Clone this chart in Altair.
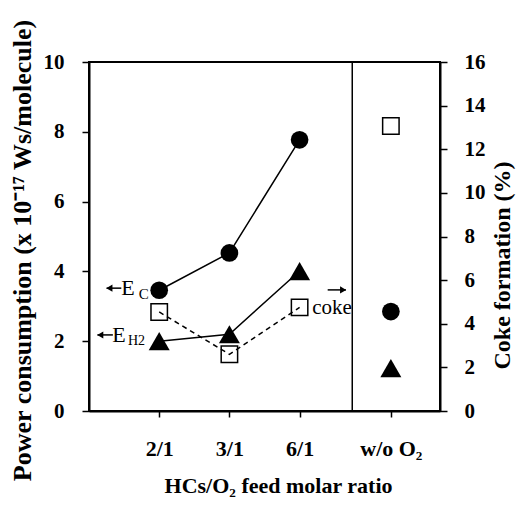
import altair as alt
import pandas as pd

# ---- data ----
categories = ["2/1", "3/1", "6/1", "w/o O₂"]
x_pos = [1, 2, 3, 4.3]
e_c = [3.46, 4.53, 7.77, 2.85]        # power consumption, E_C (left axis)
e_h2 = [2.0, 2.2, 4.01, 1.23]         # power consumption, E_H2 (left axis)
coke = [4.54, 2.6, 4.75, 13.07]       # coke formation % (right axis)
n_line = 3                            # lines join only the O2-fed ratios
divider_x = [3.75]

# annotation labels (data coordinates, left scale)
ann_text = ["E", "C", "E", "H2", "coke"]
ann_x = [0.46, 0.71, 0.33, 0.555, 3.18]
ann_y = [3.52, 3.36, 2.18, 2.02, 2.95]
ann_size = [22, 15, 22, 14, 21]

# annotation arrows (data coordinates, left scale)
arr_x1 = [0.25, 0.12, 3.40]
arr_x2 = [0.46, 0.34, 3.66]
arr_y = [3.52, 2.18, 3.47]
arr_head_x = [0.29, 0.16, 3.62]
arr_shape = ["triangle-left", "triangle-left", "triangle-right"]

FONT = "Liberation Serif"

df = pd.DataFrame({"x": x_pos, "cat": categories, "ec": e_c, "eh2": e_h2, "coke": coke})
df_line = df.iloc[:n_line]
e_long = pd.concat([
    pd.DataFrame({"x": x_pos[:n_line], "v": e_c[:n_line], "s": "EC"}),
    pd.DataFrame({"x": x_pos[:n_line], "v": e_h2[:n_line], "s": "EH2"}),
])
df_div = pd.DataFrame({"x": divider_x})
df_ann = pd.DataFrame({"x": ann_x, "y": ann_y, "t": ann_text, "fs": ann_size})
df_shaft = pd.DataFrame({"x": arr_x1, "x2": arr_x2, "y": arr_y})
df_head = pd.DataFrame({"x": arr_head_x, "y": arr_y, "shape": arr_shape})

label_expr = " : ".join(
    f"datum.value == {p} ? '{c}'" for p, c in zip(x_pos[:-1], categories[:-1])
) + f" : '{categories[-1]}'"

xenc = alt.X(
    "x:Q",
    scale=alt.Scale(domain=[0, 5], nice=False, zero=False),
    axis=alt.Axis(
        values=x_pos, labelExpr=label_expr, title="HCs/O₂ feed molar ratio",
        tickSize=6, labelPadding=21, labelFontSize=22, labelAngle=0,
        titleFontSize=22, titleX=189, titleY=81, titleBaseline="alphabetic",
        titleAnchor="middle", titleAlign="center",
    ),
)

left_scale = alt.Scale(domain=[0, 10], nice=False)
right_scale = alt.Scale(domain=[0, 16], nice=False)

left_axis = alt.Axis(
    values=[0, 2, 4, 6, 8, 10], orient="left", tickSize=7, labelPadding=18,
    title="Power consumption (x 10⁻¹⁷ Ws/molecule)", titleFontSize=26,
    titleAngle=270, titleX=-67, titleY=188, titleAlign="center",
    titleBaseline="middle",
)
right_axis = alt.Axis(
    values=list(range(0, 17, 2)), orient="right", tickSize=7, labelPadding=17,
    title="Coke formation (%)", titleFontSize=24,
    titleAngle=270, titleX=62, titleY=203, titleAlign="center",
    titleBaseline="middle",
)

e_lines = alt.Chart(e_long).mark_line(color="black", strokeWidth=1.5).encode(
    x=xenc,
    y=alt.Y("v:Q", scale=left_scale, axis=left_axis),
    detail="s:N",
)

coke_line = alt.Chart(df_line).mark_line(
    color="black", strokeWidth=1.5, strokeDash=[5, 4]
).encode(
    x=xenc,
    y=alt.Y("coke:Q", scale=right_scale, axis=right_axis),
)

circles = alt.Chart(df).mark_point(
    shape="circle", filled=True, color="black", size=313, opacity=1
).encode(x=xenc, y=alt.Y("ec:Q", scale=left_scale, axis=None))

triangles = alt.Chart(df).mark_point(
    shape="triangle-up", filled=True, color="black", size=441, opacity=1
).encode(x=xenc, y=alt.Y("eh2:Q", scale=left_scale, axis=None))

squares = alt.Chart(df).mark_point(
    shape="square", filled=False, color="black", size=270, strokeWidth=1.5, opacity=1
).encode(x=xenc, y=alt.Y("coke:Q", scale=right_scale, axis=None))

divider = alt.Chart(df_div).mark_rule(color="black", strokeWidth=1.5).encode(x=xenc)

arrow_shafts = alt.Chart(df_shaft).mark_rule(color="black", strokeWidth=1.5).encode(
    x=xenc, x2="x2:Q", y=alt.Y("y:Q", scale=left_scale, axis=None)
)
arrow_heads = alt.Chart(df_head).mark_point(
    filled=True, color="black", size=50, opacity=1
).encode(
    x=xenc,
    y=alt.Y("y:Q", scale=left_scale, axis=None),
    shape=alt.Shape("shape:N", scale=None, legend=None),
)

ann = alt.Chart(df_ann).mark_text(
    font=FONT, color="black", align="left", baseline="middle"
).encode(
    x=xenc,
    y=alt.Y("y:Q", scale=left_scale, axis=None),
    text="t:N",
    size=alt.Size("fs:Q", scale=None, legend=None),
)

chart = alt.layer(
    e_lines, coke_line, divider, circles, triangles, squares,
    arrow_shafts, arrow_heads, ann
).resolve_scale(y="independent").properties(
    width=351, height=349,
    autosize=alt.AutoSizeParams(type="none"),
    padding={"left": 81, "top": 54, "right": 76, "bottom": 86},
    background="white",
).configure_view(
    stroke="black", strokeWidth=2
).configure_axis(
    grid=False, labelFont=FONT, titleFont=FONT, labelFontWeight="bold",
    titleFontWeight="bold", labelColor="black", titleColor="black",
    domainColor="black", tickColor="black", domainWidth=2, tickWidth=1.5,
    labelFontSize=21,
)

chart.save("out.html", embed_options={"renderer": "svg", "actions": False})
